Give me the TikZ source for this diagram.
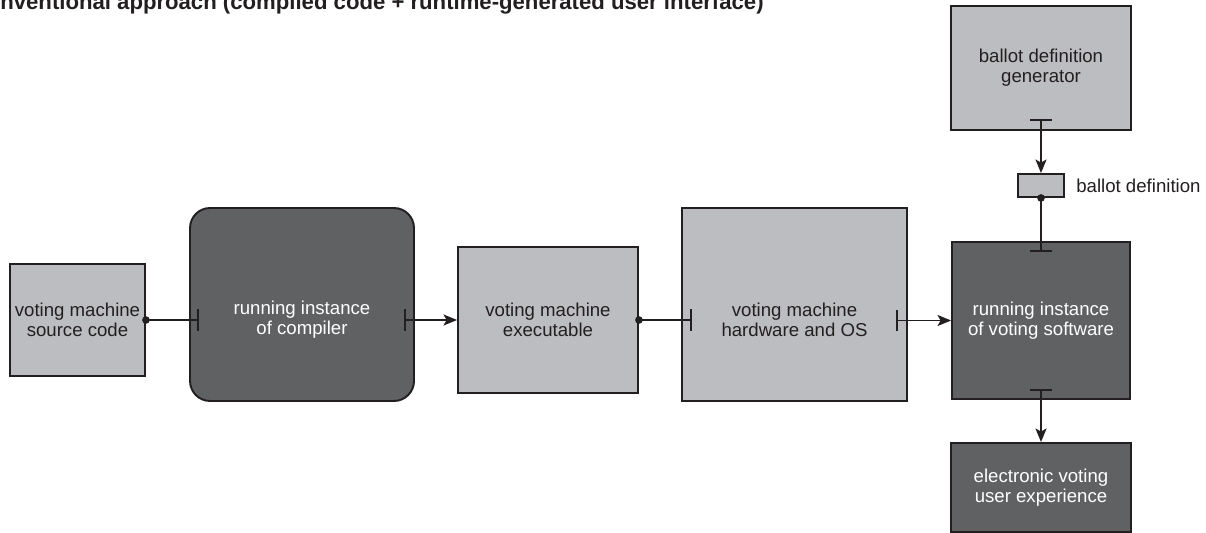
\documentclass[tikz,border=0pt]{standalone}
\usepackage{fontspec}
\setmainfont{Liberation Sans}
\usetikzlibrary{arrows.meta}
\definecolor{lightbox}{RGB}{188,189,192}
\definecolor{darkbox}{RGB}{96,97,99}
\definecolor{ink}{RGB}{35,31,32}

\begin{document}
\begin{tikzpicture}[x=0.02cm, y=-0.02cm,
        box/.style={draw=ink, line width=1.1pt, align=center, inner sep=0pt,
            font=\fontsize{10.6}{11.4}\selectfont},
        light/.style={box, fill=lightbox, text=ink},
        dark/.style={box, fill=darkbox, text=white},
        inlabel/.style={align=center, inner sep=0pt, font=\fontsize{10.6}{11.4}\selectfont},
        flow/.style={draw=ink, line width=1pt},
        barto/.style={flow, {Bar[width=0.44cm, line width=1.2pt]}-{Stealth[length=0.27cm, width=0.22cm, inset=0.06cm]}},
        dotbar/.style={flow, shorten <=-0.075cm, {Circle[length=0.15cm]}-{Bar[width=0.44cm, line width=1.2pt]}}]
    \useasboundingbox (0,0) rectangle (1206,533);

    \node[anchor=base west, inner sep=0pt, text=ink,
        font=\fontsize{12.6}{14}\selectfont\bfseries] (title) at (0,10)
        {nventional approach (compiled code + runtime-generated user interface)};

    % main row
    \node[light, minimum width=2.7cm, minimum height=2.24cm] (src) at (77.5,320)
        {voting machine\\source code};
    \node[dark, rounded corners=0.4cm, minimum width=4.48cm, minimum height=3.86cm] (comp) at (302,304.5) {};
    \node[inlabel, text=white] (comptext) at (comp.center |- src.center) {running instance\\of compiler};
    \node[light, minimum width=3.6cm, minimum height=2.92cm] (exe) at (548,320)
        {voting machine\\executable};
    \node[light, minimum width=4.5cm, minimum height=3.86cm] (hw) at (794.5,304.5) {};
    \node[inlabel, text=ink] (hwtext) at (hw.center |- src.center) {voting machine\\hardware and OS};
    \node[dark, minimum width=3.56cm, minimum height=3.14cm] (run) at (1041,320.5)
        {running instance\\of voting software};

    % right column
    \node[light, minimum width=3.6cm, minimum height=2.48cm] (gen) at (1041,68)
        {ballot definition\\generator};
    \node[light, minimum width=0.92cm, minimum height=0.46cm] (bdef) at (1041,185.5) {};
    \node[anchor=west, inner sep=0pt, text=ink, font=\fontsize{10.6}{11.4}\selectfont]
        (bdeflabel) at ([xshift=0.22cm]bdef.east) {ballot definition};
    \node[dark, minimum width=3.6cm, minimum height=1.78cm] (ux) at (1041,487.5)
        {electronic voting\\user experience};

    % connectors
    \draw[dotbar] (src.east) -- ([xshift=0.2cm]comp.west |- src.east);
    \draw[barto] ([xshift=-0.22cm]comp.east |- exe.west) -- (exe.west);
    \draw[dotbar] (exe.east) -- ([xshift=0.22cm]hw.west |- exe.east);
    \draw[barto] ([xshift=-0.24cm]hw.east |- run.west) -- (run.west);
    \draw[barto] ([yshift=0.24cm]gen.south) -- (bdef.north);
    \draw[dotbar] (bdef.south) -- ([yshift=-0.22cm]run.north);
    \draw[barto] ([yshift=0.22cm]run.south) -- (ux.north);
\end{tikzpicture}
\end{document}
